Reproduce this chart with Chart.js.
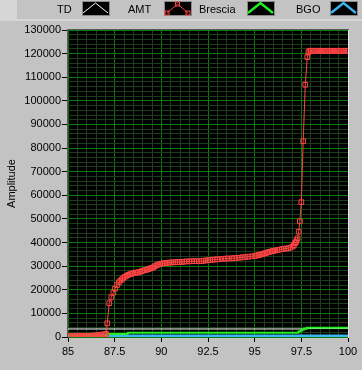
<!DOCTYPE html>
<html><head><meta charset="utf-8">
<script src="https://cdn.jsdelivr.net/npm/chart.js@4/dist/chart.umd.min.js"></script>
<style>
html,body{margin:0;padding:0;background:#c3c3c3;}
#wrap{position:relative;width:362px;height:370px;overflow:hidden;font-family:"Liberation Sans",Arial,sans-serif;}
#c{position:absolute;left:0;top:0;}
#lgbar{position:absolute;left:0;top:0;width:362px;height:19px;}
.lt{position:absolute;top:3px;font-size:11px;line-height:12px;color:#000;white-space:nowrap;}
.sw{position:absolute;top:1px;}
</style></head>
<body><div id="wrap">
<canvas id="c" width="362" height="370"></canvas>
<div id="lgbar"></div>
</div>
<script>
// ---- data ----
const seriesNames = ['TD', 'AMT', 'Brescia', 'BGO'];

const amtX = [85.0,85.1,85.2,85.3,85.4,85.5,85.6,85.7,85.8,85.9,86.0,86.1,86.2,86.3,86.4,86.5,86.6,86.7,86.8,86.9,87.0,87.04,
 87.1,87.21,87.32,87.43,87.52,87.63,87.73,87.8,87.88,87.96,88.05,88.14,88.23,88.32,88.41,88.5,88.6,88.68,88.77,88.86,88.95,
 89.03,89.12,89.21,89.3,89.39,89.48,89.57,89.66,89.75,89.84,89.93,90.02,90.11,90.2,90.3,90.42,90.53,90.64,90.75,90.87,90.98,
 91.1,91.22,91.35,91.5,91.63,91.76,91.9,92.03,92.16,92.27,92.38,92.5,92.6,92.74,92.87,93.0,93.14,93.3,93.45,93.6,93.77,93.9,
 94.05,94.2,94.35,94.5,94.66,94.83,95.0,95.1,95.2,95.29,95.38,95.47,95.56,95.65,95.73,95.82,95.92,96.0,96.1,96.2,96.3,96.45,
 96.56,96.68,96.8,96.92,97.04,97.1,97.16,97.21,97.25,97.3,97.36,97.42,97.5,97.6,97.71,97.82,97.88,97.93,
 98.0,98.1,98.2,98.3,98.4,98.5,98.6,98.7,98.8,98.9,99.0,99.1,99.2,99.3,99.4,99.5,99.6,99.7,99.8,99.9,100.0];
const amtY = [350,350,350,350,400,400,400,400,450,450,450,500,500,550,600,700,800,900,1000,1050,1150,1300,
 5800,14300,16800,18800,20500,22000,23200,23900,24400,25000,25500,25900,26300,26600,26800,27000,27200,27300,27400,27600,27900,
 28100,28300,28500,28700,29000,29200,29500,30000,30400,30700,30900,31100,31200,31300,31400,31500,31550,31600,31650,31700,31750,
 31800,31900,32000,32050,32100,32100,32100,32100,32150,32300,32400,32500,32600,32700,32800,32900,33000,33100,33200,33250,33300,33400,
 33500,33600,33750,33850,34000,34150,34300,34500,34700,34850,35000,35250,35500,35700,35900,36100,36300,36450,36600,36800,36950,37200,
 37350,37450,37600,37900,38300,38900,39700,40200,41000,41800,44600,49000,57100,82900,106800,118500,120500,121200,
 121200,121200,121200,121200,121200,121200,121200,121200,121200,121200,121200,121200,121200,121200,121200,121200,121200,121200,121200,121200,121200];

const tdX = [85, 97.8, 100];
const tdY = [3400, 3600, 3600];

const bresciaX = [85, 87.1, 88.2, 97.35, 97.45, 97.55, 97.65, 97.8, 100];
const bresciaY = [1000, 1300, 1800, 2300, 2800, 3200, 3600, 3950, 3950];

const bgoX = [85, 100];
const bgoY = [420, 420];

const xTickLabels = ['85', '87.5', '90', '92.5', '95', '97.5', '100'];
const yTickLabels = ['0','10000','20000','30000','40000','50000','60000','70000','80000','90000','100000','110000','120000','130000'];

// ---- build ----
const pts = (xs, ys) => xs.map((x, i) => ({x, y: ys[i]}));
const colors = {TD:'#ffffff', AMT:'#ff4444', Brescia:'#22ee22', BGO:'#3cb4f0'};

const isMajX = v => xTickLabels.includes(String(+v.toFixed(3)));
const isMajY = v => yTickLabels.includes(String(Math.round(v)));

// legend (HTML, real text)
const lg = document.getElementById('lgbar');
lg.innerHTML = '<div style="position:absolute;left:0;top:0;width:17px;height:19px;background:#d6d6d6"></div>' +
  '<div style="position:absolute;left:0;top:19px;width:362px;height:2px;background:#d6d6d6"></div>';
const textLeft = [57, 128, 199, 296];
const swLeft = [82, 164, 247, 330];
seriesNames.forEach((n, i) => {
  const t = document.createElement('div');
  t.className = 'lt'; t.style.left = textLeft[i] + 'px'; t.textContent = n;
  lg.appendChild(t);
  const c = colors[n];
  let inner;
  if (n === 'AMT') {
    inner = `<polyline points="3,12 13.5,3 24,12" stroke="${c}" stroke-width="1" fill="none"/>` +
      [[3,12],[13.5,3],[24,12]].map(p => `<rect x="${p[0]-2}" y="${p[1]-2}" width="4" height="4" stroke="${c}" fill="none"/>`).join('');
  } else {
    const w = (n === 'TD') ? 1 : 2.5;
    inner = `<polyline points="1,12 13.5,2 26,12" stroke="${c}" stroke-width="${w}" fill="none"/>`;
  }
  const s = document.createElement('div');
  s.className = 'sw'; s.style.left = swLeft[i] + 'px';
  s.innerHTML = `<svg width="28" height="15"><rect x="0.5" y="0.5" width="27" height="14" fill="#000" stroke="#8a8a8a"/>${inner}</svg>`;
  lg.appendChild(s);
});

const frame = {
  id: 'frame',
  beforeDraw(chart) {
    const {ctx, chartArea: a} = chart;
    ctx.save(); ctx.fillStyle = '#000';
    ctx.fillRect(a.left, a.top, a.right - a.left, a.bottom - a.top);
    ctx.restore();
  },
  afterDraw(chart) {
    const {ctx, chartArea: a} = chart;
    ctx.save(); ctx.lineWidth = 1;
    ctx.strokeStyle = '#5a5a5a';
    ctx.beginPath(); ctx.moveTo(a.left - 0.5, a.bottom); ctx.lineTo(a.left - 0.5, a.top - 0.5); ctx.lineTo(a.right + 1, a.top - 0.5); ctx.stroke();
    ctx.strokeStyle = '#e6e6e6';
    ctx.beginPath(); ctx.moveTo(a.right + 0.5, a.top); ctx.lineTo(a.right + 0.5, a.bottom + 1); ctx.stroke();
    ctx.restore();
  }
};

const font = {family: '"Liberation Sans", Arial, sans-serif', size: 11};

new Chart(document.getElementById('c'), {
  type: 'line',
  data: {
    datasets: [
      {label: 'TD', data: pts(tdX, tdY), borderColor: colors.TD, borderWidth: 1, pointRadius: 0, stepped: 'before', order: 2},
      {label: 'AMT', data: pts(amtX, amtY), borderColor: colors.AMT, borderWidth: 1, pointStyle: 'rect', pointRadius: 3.3,
        pointBorderWidth: 1, pointBorderColor: colors.AMT, pointBackgroundColor: 'rgba(0,0,0,0)', order: 0},
      {label: 'Brescia', data: pts(bresciaX, bresciaY), borderColor: colors.Brescia, borderWidth: 2, pointRadius: 0, stepped: 'before', order: 1},
      {label: 'BGO', data: pts(bgoX, bgoY), borderColor: colors.BGO, borderWidth: 3, pointRadius: 0, order: 3}
    ]
  },
  options: {
    responsive: false, animation: false, devicePixelRatio: 1,
    layout: {padding: {top: 30, right: 14, bottom: 0, left: 1}},
    elements: {line: {tension: 0}},
    plugins: {legend: {display: false}, tooltip: {enabled: false}},
    scales: {
      x: {
        type: 'linear', min: 85, max: 100,
        afterFit: s => { s.height = 33; },
        border: {display: false},
        grid: {
          color: c => (c.tick && isMajX(c.tick.value)) ? '#0a7a0a' : '#1d3d1d',
          tickColor: c => (c.tick && isMajX(c.tick.value)) ? '#000' : 'rgba(0,0,0,0)',
          tickLength: 5, lineWidth: 1
        },
        ticks: {
          stepSize: 0.5, autoSkip: false, maxRotation: 0, color: '#000', font, padding: 3,
          callback: v => isMajX(v) ? String(+v.toFixed(3)) : ''
        }
      },
      y: {
        type: 'linear', min: 0, max: 130000,
        afterFit: s => { s.width = 67; },
        border: {display: false},
        title: {display: true, text: 'Amplitude', color: '#000', font, padding: {top: 4, bottom: 4}},
        grid: {
          color: c => (c.tick && isMajY(c.tick.value)) ? '#0a7a0a' : '#1d3d1d',
          tickColor: c => (c.tick && isMajY(c.tick.value)) ? '#000' : 'rgba(0,0,0,0)',
          tickLength: 6, lineWidth: 1
        },
        ticks: {
          stepSize: 2000, autoSkip: false, color: '#000', font, padding: 1,
          callback: v => isMajY(v) ? String(Math.round(v)) : ''
        }
      }
    }
  },
  plugins: [frame]
});
</script>
</body></html>
